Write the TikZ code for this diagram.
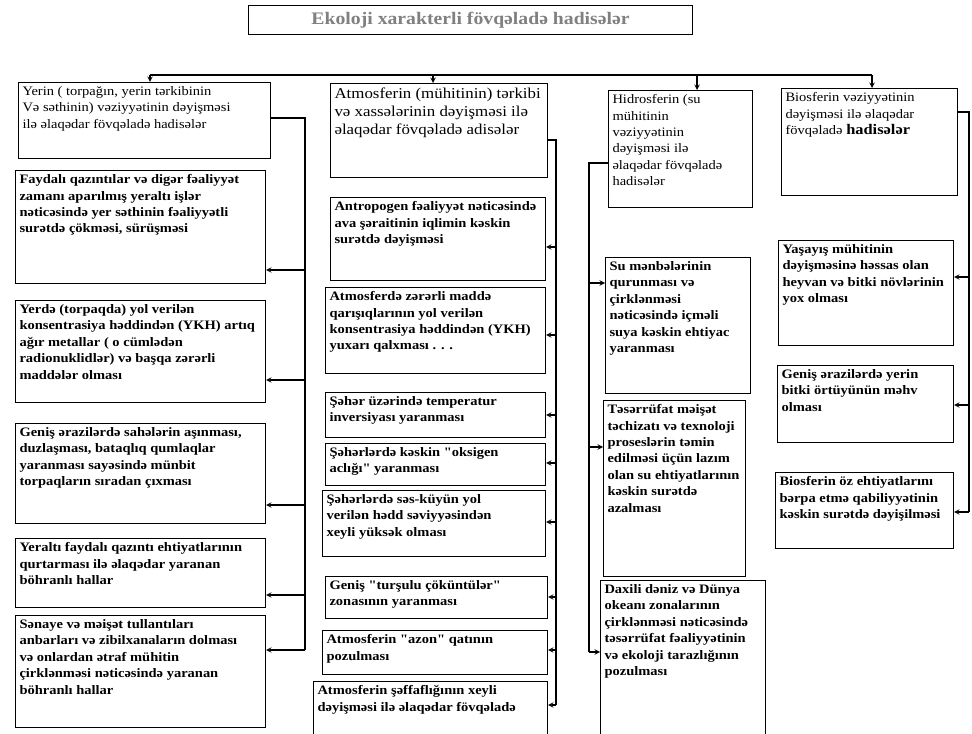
\documentclass[tikz,border=0pt]{standalone}
\usepackage{fontspec}
\setmainfont{Liberation Serif}[FakeStretch=1.12, Ligatures=TeXOff]
\newlength{\pxu}\setlength{\pxu}{0.75pt}
\newcommand{\bt}[3]{\parbox[c][\dimexpr#2\pxu-6pt\relax][t]{\dimexpr#1\pxu-6pt\relax}{\raggedright#3}}
\tikzset{
  head/.style={draw, line width=0.8pt, anchor=north west, inner sep=3pt, font=\fontsize{9.7}{12.3}\selectfont},
  sub/.style={head, font=\bfseries\fontsize{9.7}{12.3}\selectfont},
  link/.style={line width=0.8pt},
}
\begin{document}
\begin{tikzpicture}[x=0.75pt, y=-0.75pt, >=stealth]
\useasboundingbox (0,0) rectangle (972,734);
\node[draw, line width=0.8pt, anchor=north west, minimum width=333pt, minimum height=22pt, text=gray, font=\bfseries\fontsize{13.2}{15}\selectfont] (T) at (248,5) {Ekoloji xarakterli fövqəladə hadisələr};

\node[head] (Y) at (18,82) {\bt{252}{76}{Yerin ( torpağın, yerin tərkibinin\\ Və səthinin) vəziyyətinin dəyişməsi\\ ilə əlaqədar fövqəladə hadisələr}};
\node[sub] (Y1) at (15,170) {\bt{250}{113}{Faydalı qazıntılar və digər fəaliyyət\\ zamanı aparılmış yeraltı işlər\\ nəticəsində yer səthinin fəaliyyətli\\ surətdə çökməsi, sürüşməsi}};
\node[sub] (Y2) at (15,300) {\bt{250}{102}{Yerdə (torpaqda) yol verilən\\ konsentrasiya həddindən (YKH) artıq\\ ağır metallar ( o cümlədən\\ radionuklidlər) və başqa zərərli\\ maddələr olması}};
\node[sub] (Y3) at (15,423) {\bt{250}{100}{Geniş ərazilərdə sahələrin aşınması,\\ duzlaşması, bataqlıq qumlaqlar\\ yaranması sayəsində münbit\\ torpaqların sıradan çıxması}};
\node[sub] (Y4) at (15,538) {\bt{250}{69}{Yeraltı faydalı qazıntı ehtiyatlarının\\ qurtarması ilə əlaqədar yaranan\\ böhranlı hallar}};
\node[sub] (Y5) at (15,615) {\bt{250}{112}{Sənaye və məişət tullantıları\\ anbarları və zibilxanaların dolması\\ və onlardan ətraf mühitin\\ çirklənməsi nəticəsində yaranan\\ böhranlı hallar}};

\node[head, font=\fontsize{11.3}{13.5}\selectfont] (A) at (330,83) {\bt{217}{94}{Atmosferin (mühitinin) tərkibi\\ və xassələrinin dəyişməsi ilə\\ əlaqədar fövqəladə adisələr}};
\node[sub] (A1) at (330,197) {\bt{215}{83}{Antropogen fəaliyyət nəticəsində\\ ava şəraitinin iqlimin kəskin\\ surətdə dəyişməsi}};
\node[sub] (A2) at (325,287) {\bt{220}{86}{Atmosferdə zərərli maddə\\ qarışıqlarının yol verilən\\ konsentrasiya həddindən (YKH)\\ yuxarı qalxması . . .}};
\node[sub] (A3) at (325,392) {\bt{220}{45}{Şəhər üzərində temperatur\\ inversiyası yaranması}};
\node[sub] (A4) at (325,443) {\bt{220}{42}{ Şəhərlərdə kəskin "oksigen\\ aclığı" yaranması}};
\node[sub] (A5) at (322,490) {\bt{223}{66}{ Şəhərlərdə səs-küyün yol\\ verilən hədd səviyyəsindən\\ xeyli yüksək olması}};
\node[sub] (A6) at (325,576) {\bt{222}{42}{ Geniş "turşulu çöküntülər"\\ zonasının yaranması}};
\node[sub] (A7) at (322,630) {\bt{225}{44}{Atmosferin "azon" qatının\\ pozulması}};
\node[sub] (A8) at (313,681) {\bt{234}{60}{Atmosferin şəffaflığının xeyli\\ dəyişməsi ilə əlaqədar fövqəladə}};

\node[head] (H) at (608,90) {\bt{144}{117}{Hidrosferin (su\\ mühitinin\\ vəziyyətinin\\ dəyişməsi ilə\\ əlaqədar fövqəladə\\ hadisələr}};
\node[sub] (H1) at (605,257) {\bt{145}{136}{Su mənbələrinin\\ qurunması və\\ çirklənməsi\\ nəticəsində içməli\\ suya kəskin ehtiyac\\ yaranması}};
\node[sub] (H2) at (603,400) {\bt{142}{176}{Təsərrüfat məişət\\ təchizatı və texnoloji\\ proseslərin təmin\\ edilməsi üçün lazım\\ olan su ehtiyatlarının\\ kəskin surətdə\\ azalması}};
\node[sub] (H3) at (600,580) {\bt{165}{156}{Daxili dəniz və Dünya\\ okeanı zonalarının\\ çirklənməsi nəticəsində\\ təsərrüfat fəaliyyətinin\\ və ekoloji tarazlığının\\ pozulması}};

\node[head] (B) at (781,88) {\bt{176}{107}{Biosferin vəziyyətinin\\ dəyişməsi ilə əlaqədar\\ fövqəladə {\bfseries\fontsize{11}{12.3}\selectfont hadisələr}}};
\node[sub] (B1) at (778,240) {\bt{175}{105}{Yaşayış mühitinin\\ dəyişməsinə həssas olan\\ heyvan və bitki növlərinin\\ yox olması}};
\node[sub] (B2) at (777,365) {\bt{176}{77}{Geniş ərazilərdə yerin\\ bitki örtüyünün məhv\\ olması}};
\node[sub] (B3) at (775,472) {\bt{178}{76}{Biosferin öz ehtiyatlarını\\ bərpa etmə qabiliyyətinin\\ kəskin surətdə dəyişilməsi}};

\coordinate (L) at (150,75);
\coordinate (R) at (872,75);
\coordinate (d2) at (433,75);
\coordinate (d3) at (697,75);
\draw[link] (L) -- (R);
\draw[link,->] (L) -- (L |- Y.north);
\draw[link,->] (d2) -- (d2 |- A.north);
\draw[link,->] (d3) -- (d3 |- H.north);
\draw[link,->] (R) -- (R |- B.north);

\coordinate (Yt) at (305,118);
\coordinate (Yb) at (305,650);
\draw[link] (Y.east |- Yt) -- (Yt) -- (Yb);
\foreach \n/\y in {1/270, 2/380, 3/505, 4/595, 5/650}
  \draw[link,->] (305,\y) -- (Y\n.east |- 305,\y);

\coordinate (At) at (556,140);
\coordinate (Ab) at (556,705);
\draw[link] (A.east |- At) -- (At) -- (Ab);
\foreach \n/\y in {1/247, 2/335, 3/415, 4/463, 5/522, 6/597, 7/650, 8/705}
  \draw[link,->] (556,\y) -- (A\n.east |- 556,\y);

\coordinate (Ht) at (589,163);
\coordinate (Hb) at (589,652);
\draw[link] (H.west |- Ht) -- (Ht) -- (Hb);
\foreach \n/\y in {1/283, 2/447, 3/652}
  \draw[link,->] (589,\y) -- (H\n.west |- 589,\y);

\coordinate (Bt) at (969,112);
\coordinate (Bb) at (969,512);
\draw[link] (B.east |- Bt) -- (Bt) -- (Bb);
\foreach \n/\y in {1/277, 2/405, 3/512}
  \draw[link,->] (969,\y) -- (B\n.east |- 969,\y);
\end{tikzpicture}
\end{document}
